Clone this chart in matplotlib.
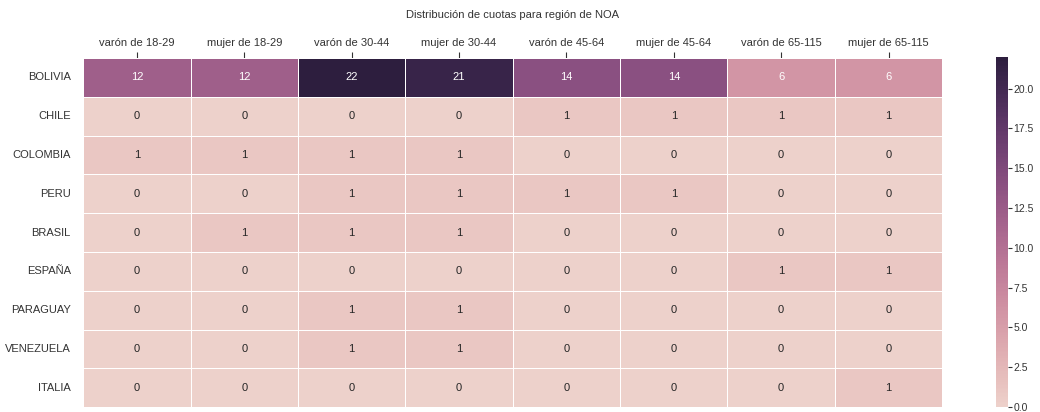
import numpy as np
import pandas as pd
import matplotlib
matplotlib.use("Agg")
import matplotlib.pyplot as plt
import seaborn as sns

sns.set_style("white")
plt.rcParams['font.family'] = ["Liberation Sans", 'DejaVu Sans']

countries = ["BOLIVIA", "CHILE", "COLOMBIA", "PERU", "BRASIL", "ESPAÑA", "PARAGUAY", "VENEZUELA", "ITALIA"]
columns = ["varón de 18-29", "mujer de 18-29", "varón de 30-44", "mujer de 30-44",
           "varón de 45-64", "mujer de 45-64", "varón de 65-115", "mujer de 65-115"]
bolivia = [12, 12, 22, 21, 14, 14, 6, 6]
chile = [0, 0, 0, 0, 1, 1, 1, 1]
colombia = [1, 1, 1, 1, 0, 0, 0, 0]
peru = [0, 0, 1, 1, 1, 1, 0, 0]
brasil = [0, 1, 1, 1, 0, 0, 0, 0]
espana = [0, 0, 0, 0, 0, 0, 1, 1]
paraguay = [0, 0, 1, 1, 0, 0, 0, 0]
venezuela = [0, 0, 1, 1, 0, 0, 0, 0]
italia = [0, 0, 0, 0, 0, 0, 0, 1]
title = "Distribución de cuotas para región de NOA"

df = pd.DataFrame([bolivia, chile, colombia, peru, brasil, espana, paraguay, venezuela, italia],
                  index=countries, columns=columns)

fig = plt.figure(figsize=(10.4, 4.12), dpi=100)
ax = fig.add_axes([0.080, 0.012, 0.826, 0.847])
cax = fig.add_axes([0.958, 0.012, 0.011, 0.850])

cmap = sns.cubehelix_palette(as_cmap=True)
sns.heatmap(df, ax=ax, cbar_ax=cax, cmap=cmap, annot=True, fmt="d",
            linewidths=0.6, linecolor="white", annot_kws={"fontsize": 8})

ax.xaxis.tick_top()
ax.xaxis.set_label_position("top")
ax.tick_params(axis="x", which="both", top=True, bottom=False, length=4, width=0.8,
               colors="#333333", labelsize=8, pad=3)
ax.tick_params(axis="y", left=False, length=0, labelsize=8, colors="#333333", pad=9)
plt.setp(ax.get_xticklabels(), rotation=0, ha="center")
plt.setp(ax.get_yticklabels(), rotation=0)
ax.set_title(title, fontsize=8, color="#333333", pad=29)

cax.tick_params(axis="y", right=True, length=3, width=0.8, colors="#333333", labelsize=7.5, pad=1)
cax.set_yticks([0, 2.5, 5, 7.5, 10, 12.5, 15, 17.5, 20])
cax.set_yticklabels(["0.0", "2.5", "5.0", "7.5", "10.0", "12.5", "15.0", "17.5", "20.0"])
for s in cax.spines.values():
    s.set_visible(False)

fig.savefig("out.png", dpi=100)
